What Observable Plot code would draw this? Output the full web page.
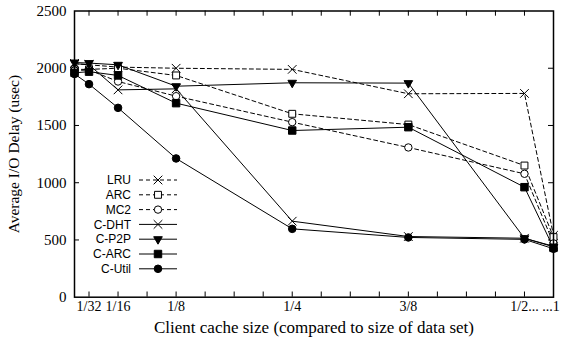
<!DOCTYPE html>
<html><head><meta charset="utf-8">
<script src="https://cdn.jsdelivr.net/npm/d3@7"></script>
<script src="https://cdn.jsdelivr.net/npm/@observablehq/plot@0.6"></script>
<style>body{margin:0;background:#fff}</style>
</head><body><div id="chart"></div>
<script>
// Cache sizes (fraction of data set); the axis is broken between 1/2 and 1,
// so positions are in units of 1/32 with "1" drawn one unit after 1/2.
const cacheSizes = ["1/64","1/32","1/16","1/8","1/4","3/8","1/2","1"];
const xPositions = [0.5, 1, 2, 4, 8, 12, 16, 17];
const tickPositions = [1, 2, 4, 8, 12, 16];
const tickLabels = ["1/32","1/16","1/8","1/4","3/8","1/2..."];
const endTickPosition = [17];
const endTickLabel = "...1";
const minorTicks = [1,2,3,4,5,6,7,8,9,10,11,12,13,14,15,16];
const yTicks = [0, 500, 1000, 1500, 2000, 2500];
const yInnerTicks = [500, 1000, 1500, 2000];

const seriesNames = ["LRU","ARC","MC2","C-DHT","C-P2P","C-ARC","C-Util"];
const lru   = [2040, 2030, 2010, 2000, 1990, 1777, 1780, 540];
const arc   = [1990, 1990, 2000, 1937, 1602, 1508, 1150, 525];
const mc2   = [1980, 1985, 1884, 1756, 1529, 1308, 1078, 470];
const cdht  = [2040, 2030, 1811, 1820, 664, 530, 515, 445];
const cp2p  = [2050, 2045, 2030, 1843, 1873, 1870, 515, 440];
const carc  = [1960, 1970, 1937, 1695, 1456, 1485, 961, 431];
const cutil = [1950, 1861, 1654, 1212, 597, 522, 505, 423];
const seriesValues = [lru, arc, mc2, cdht, cp2p, carc, cutil];

const xTitle = "Client cache size (compared to size of data set)";
const yTitle = "Average I/O Delay (usec)";

const styles = [
  {dash: "4,3", symbol: "times", fill: "none", r: 4, rotate: 0},
  {dash: "4,3", symbol: "square", fill: "white", r: 3.9, rotate: 0},
  {dash: "4,3", symbol: "circle", fill: "white", r: 3.7, rotate: 0},
  {dash: null, symbol: "times", fill: "none", r: 4, rotate: 0},
  {dash: null, symbol: "triangle", fill: "black", r: 3.2, rotate: 180},
  {dash: null, symbol: "square", fill: "black", r: 4.2, rotate: 0},
  {dash: null, symbol: "circle", fill: "black", r: 3.8, rotate: 0}
];

const rows = seriesNames.flatMap((s, i) =>
  seriesValues[i].map((v, j) => ({series: s, size: cacheSizes[j], x: xPositions[j], y: v})));

const serif = "Liberation Serif, Times New Roman, serif";
const marks = [];
seriesNames.forEach((s, i) => {
  const st = styles[i];
  const data = rows.filter(d => d.series === s);
  marks.push(Plot.line(data, {x: "x", y: "y", stroke: "black", strokeWidth: 1, strokeDasharray: st.dash || undefined}));
});
seriesNames.forEach((s, i) => {
  const st = styles[i];
  const data = rows.filter(d => d.series === s);
  marks.push(Plot.dot(data, {x: "x", y: "y", symbol: () => st.symbol, r: st.r, stroke: "black", strokeWidth: 1,
    fill: st.fill, rotate: st.rotate}));
});

const plot = Plot.plot({
  width: 561, height: 339,
  marginLeft: 74, marginRight: 8, marginTop: 10.5, marginBottom: 42.3,
  style: {fontFamily: serif, fontSize: "15px", background: "white", color: "black"},
  x: {domain: [0.5, 17], axis: null},
  y: {domain: [0, 2500], axis: null},
  symbol: {type: "identity"},
  marks: [
    Plot.ruleX(minorTicks, {x: d => d, insetTop: 281, stroke: "black", strokeWidth: 1}),
    Plot.ruleX(minorTicks, {x: d => d, insetBottom: 281, stroke: "black", strokeWidth: 1}),
    Plot.ruleY(yInnerTicks, {y: d => d, insetRight: 474, stroke: "black", strokeWidth: 1}),
    Plot.ruleY(yInnerTicks, {y: d => d, insetLeft: 474, stroke: "black", strokeWidth: 1}),
    ...marks,
    Plot.frame({stroke: "black", strokeWidth: 1.5}),
    Plot.axisY(yTicks, {tickSize: 0, tickPadding: 8, fontSize: 15, fontFamily: serif, label: null,
      tickFormat: d => String(d)}),
    Plot.axisX(tickPositions, {tickSize: 0, tickPadding: 4, fontSize: 14, fontFamily: serif, label: null,
      tickFormat: d => tickLabels[tickPositions.indexOf(d)]}),
    Plot.axisX(endTickPosition, {tickSize: 0, tickPadding: 4, fontSize: 14, fontFamily: serif, label: null,
      dx: -2.5, tickFormat: () => endTickLabel}),
    Plot.text([xTitle], {frameAnchor: "bottom", dy: 30, fontSize: 17, fontFamily: serif, lineAnchor: "middle",
      textAnchor: "middle"}),
    Plot.text([yTitle], {frameAnchor: "left", dx: -60, rotate: -90, fontSize: 15.5, fontFamily: serif,
      lineAnchor: "middle", textAnchor: "middle"})
  ]
});
document.getElementById("chart").appendChild(plot);

// Legend (inside the plot area, lower left)
const svg = d3.select(plot);
const lg = svg.append("g").attr("font-family", "Liberation Sans, Arial, sans-serif").attr("font-size", 12);
const symMap = {times: d3.symbolTimes, square: d3.symbolSquare, circle: d3.symbolCircle, triangle: d3.symbolTriangle};
seriesNames.forEach((s, i) => {
  const st = styles[i];
  const y = 180 + 14.8 * i;
  lg.append("text").attr("x", 131).attr("y", y).attr("dy", "0.35em").attr("text-anchor", "end").text(s);
  lg.append("line").attr("x1", 139).attr("x2", 177).attr("y1", y).attr("y2", y)
    .attr("stroke", "black").attr("stroke-width", 1).attr("stroke-dasharray", st.dash);
  lg.append("path").attr("d", d3.symbol(symMap[st.symbol], st.r * st.r * Math.PI)())
    .attr("transform", `translate(158,${y}) rotate(${st.rotate})`)
    .attr("fill", st.fill).attr("stroke", "black").attr("stroke-width", 1);
});
</script>
</body></html>
